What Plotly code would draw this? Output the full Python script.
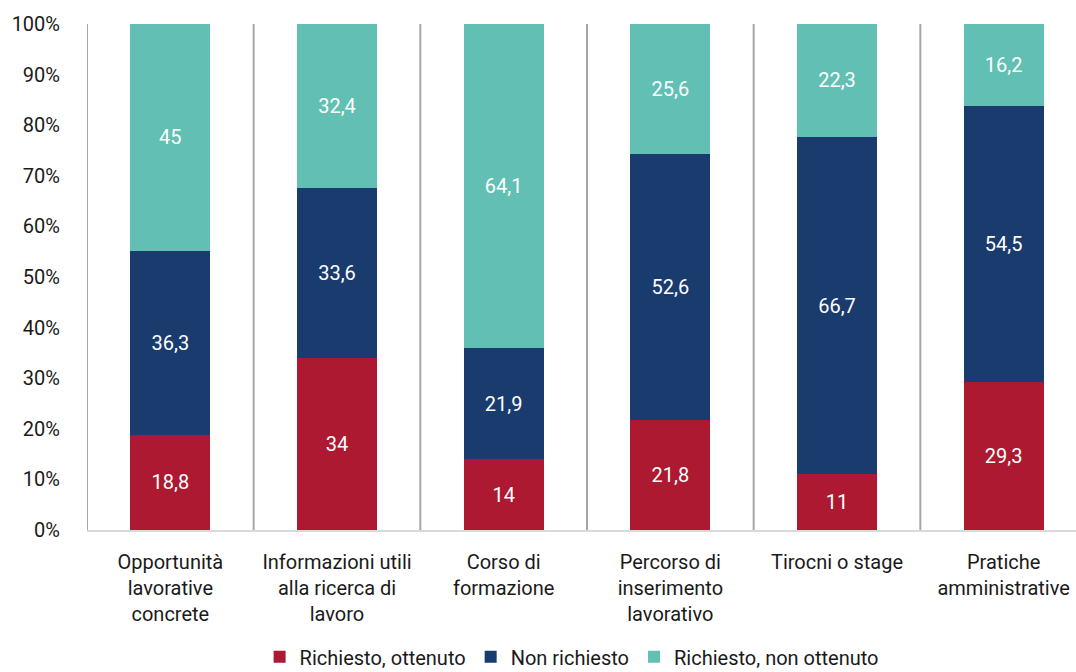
import plotly.graph_objects as go

categories = [
    "Opportunità<br>lavorative<br>concrete",
    "Informazioni utili<br>alla ricerca di<br>lavoro",
    "Corso di<br>formazione",
    "Percorso di<br>inserimento<br>lavorativo",
    "Tirocni o stage",
    "Pratiche<br>amministrative",
]
richiesto_ottenuto = [18.8, 34, 14, 21.8, 11, 29.3]
non_richiesto = [36.3, 33.6, 21.9, 52.6, 66.7, 54.5]
richiesto_non_ottenuto = [45, 32.4, 64.1, 25.6, 22.3, 16.2]

y_ticks = [0, 10, 20, 30, 40, 50, 60, 70, 80, 90, 100]
y_ticktext = [f"{t}%" for t in y_ticks]

series_names = ["Richiesto, ottenuto", "Non richiesto", "Richiesto, non ottenuto"]
series_values = [richiesto_ottenuto, non_richiesto, richiesto_non_ottenuto]
series_colors = ["#AC1931", "#1A3B6E", "#62BFB3"]

FONT = "Roboto"
FS = 20


def fmt(v):
    return f"{v:g}".replace(".", ",")


x_idx = list(range(len(categories)))

fig = go.Figure()
for name, vals, col in zip(series_names, series_values, series_colors):
    fig.add_trace(go.Bar(
        x=x_idx, y=vals, name=name,
        marker=dict(color=col, line=dict(width=0)),
        width=0.48,
        text=[fmt(v) for v in vals],
        textposition="inside", insidetextanchor="middle",
        textfont=dict(color="white", size=FS, family=FONT),
        textangle=0,
        hoverinfo="skip",
    ))

# category separators (including the left edge)
for i in range(len(categories)):
    fig.add_shape(type="line", xref="x", yref="y",
                  x0=i - 0.5, x1=i - 0.5, y0=0, y1=100,
                  line=dict(color="#A6A6A6", width=2), layer="below")

fig.update_layout(
    width=1076, height=672,
    barmode="stack",
    plot_bgcolor="white", paper_bgcolor="white",
    margin=dict(l=87, r=0, t=24, b=142, autoexpand=False),
    font=dict(family=FONT, size=FS, color="#1a1a1a"),
    showlegend=True,
    legend=dict(orientation="h", x=0.49, xanchor="center", y=-0.212, yanchor="top",
                font=dict(size=FS, family=FONT), traceorder="normal",
                itemwidth=30),
    uniformtext=dict(minsize=FS, mode="show"),
)
fig.update_xaxes(
    tickmode="array", tickvals=x_idx, ticktext=categories,
    range=[-0.5, 5.434], showgrid=False, zeroline=False,
    showline=True, linecolor="#D9D9D9", linewidth=2,
    ticks="", tickfont=dict(size=FS), ticklabelstandoff=13, automargin=False,
)
fig.update_yaxes(
    range=[0, 100], tickmode="array", tickvals=y_ticks, ticktext=y_ticktext,
    showgrid=False, zeroline=False, showline=False,
    ticks="", ticklabelstandoff=26, tickfont=dict(size=FS), automargin=False,
)

fig.write_html("out.html")
